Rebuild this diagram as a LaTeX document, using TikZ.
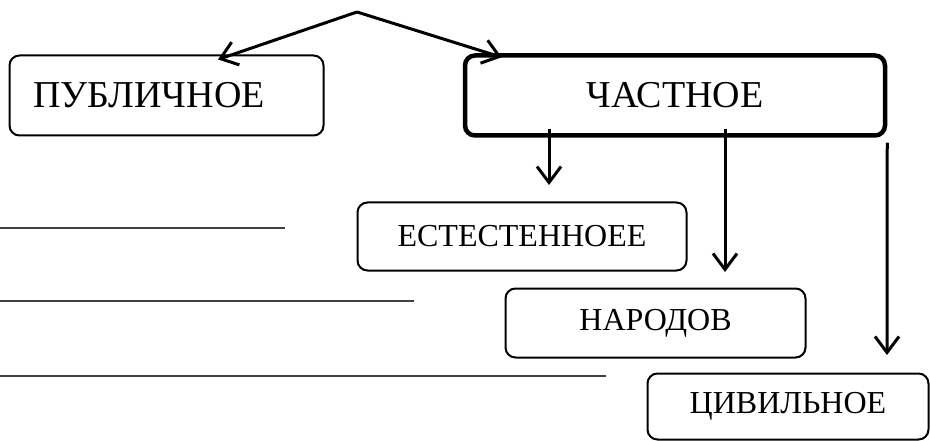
\documentclass[tikz,border=0pt]{standalone}
\usepackage{fontspec}
\setmainfont{Liberation Serif}
\usetikzlibrary{arrows.meta}

\tikzset{
    box/.style={draw, rounded corners=10pt, line width=2pt, inner sep=0pt},
    bigtxt/.style={font=\fontsize{38}{42}\selectfont},
    smalltxt/.style={font=\fontsize{32}{36}\selectfont},
    arr/.style={line width=3pt, -{Straight Barb[length=16pt,width=24pt,line width=3pt]}}
}

\begin{document}
\begin{tikzpicture}[x=1pt,y=-1pt]
    \useasboundingbox (0,0) rectangle (930,441);
    \node[box, bigtxt, minimum width=314pt, minimum height=80pt,
          text width=266pt, align=left, inner xsep=24pt] (publ) at (166.5,95.5) {ПУБЛИЧНОЕ};
    \node[box, bigtxt, line width=4.5pt, minimum width=420pt, minimum height=80pt] (chast) at (675,95.5) {ЧАСТНОЕ};
    \node[box, smalltxt, minimum width=329pt, minimum height=68pt] (estest) at (522,236.5) {ЕСТЕСТЕННОЕЕ};
    \node[box, smalltxt, minimum width=300pt, minimum height=69pt] (narod) at (655.5,323) {НАРОДОВ};
    \node[box, smalltxt, minimum width=281pt, minimum height=66pt] (civil) at (788,406.5) {ЦИВИЛЬНОЕ};

    \coordinate (top) at (357,12);
    \coordinate (e1) at (549,185);
    \coordinate (e2) at (725,272);
    \coordinate (e3) at (887,355);

    \draw[arr] (top) -- ([xshift=51.5pt,yshift=-5pt]publ.north);
    \draw[arr] (top) -- ([xshift=39pt,yshift=-4pt]chast.north west);
    \draw[arr] ([xshift=-126pt,yshift=9pt]chast.south) -- (e1);
    \draw[arr] ([xshift=50pt,yshift=9pt]chast.south) -- (e2);
    \draw[arr] ([yshift=-5pt]chast.south east) -- (e3);

    % blank lines to fill in
    \draw[line width=1.4pt, black!75] (0,228) -- (285,228);
    \draw[line width=1.4pt, black!75] (0,301) -- (414,301);
    \draw[line width=1.4pt, black!75] (0,376) -- (606,376);
\end{tikzpicture}
\end{document}
